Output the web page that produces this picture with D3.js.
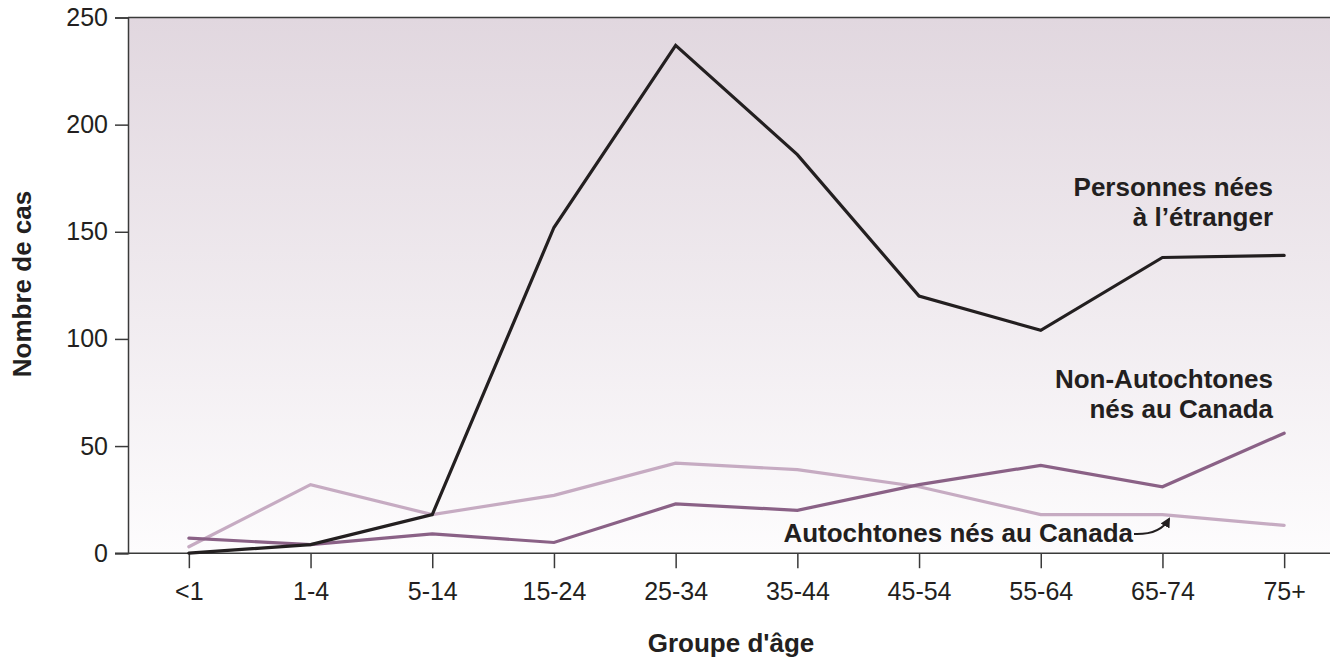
<!DOCTYPE html>
<html lang="fr">
<head>
<meta charset="UTF-8">
<title>Nombre de cas par groupe d'âge</title>
<style>
  body { margin: 0; background: #fff; }
  svg { display: block; font-family: "Liberation Sans", Arial, sans-serif; }
</style>
</head>
<body>
<script src="https://cdn.jsdelivr.net/npm/d3@7"></script>
<script>
// age groups on x axis
var ages = ["<1", "1-4", "5-14", "15-24", "25-34", "35-44", "45-54", "55-64", "65-74", "75+"];

// cases per group
var etranger = [0, 4, 18, 152, 237, 186, 120, 104, 138, 139];
var nonAutochtones = [7, 4, 9, 5, 23, 20, 32, 41, 31, 56];
var autochtones = [3, 32, 18, 27, 42, 39, 31, 18, 18, 13];

var yTicks = [0, 50, 100, 150, 200, 250];

var W = 1330, H = 659;
var margin = {top: 17.5, left: 128, bottom: 106};
var plotBottom = H - margin.bottom + 0.2; // ~552.7

var svg = d3.select("body").append("svg")
  .attr("width", W)
  .attr("height", H);

var x = d3.scalePoint().domain(ages).range([margin.left, 1345]).padding(0.5);
var y = d3.scaleLinear().domain([0, 250]).range([plotBottom, margin.top]);

// background gradient
var grad = svg.append("defs").append("linearGradient")
  .attr("id", "bg").attr("x1", 0).attr("y1", 0).attr("x2", 0).attr("y2", 1);
grad.append("stop").attr("offset", "0%").attr("stop-color", "#e1d7df");
grad.append("stop").attr("offset", "100%").attr("stop-color", "#fdfcfd");

svg.append("rect")
  .attr("x", margin.left)
  .attr("y", margin.top)
  .attr("width", W - margin.left)
  .attr("height", plotBottom - margin.top)
  .attr("fill", "url(#bg)");

// y axis
var yAxis = d3.axisLeft(y).tickValues(yTicks).tickSize(13).tickPadding(7);
var gy = svg.append("g")
  .attr("transform", "translate(" + margin.left + ",0)")
  .call(yAxis);
gy.select(".domain").attr("stroke", "#3a3a3a").attr("stroke-width", 1.5);
gy.selectAll(".tick line").attr("stroke", "#3a3a3a").attr("stroke-width", 1.5);
gy.selectAll(".tick text")
  .attr("font-size", 25)
  .attr("fill", "#231f20")
  .attr("font-family", "Liberation Sans, Arial, sans-serif");

// top border, continues the 250 tick
svg.append("line")
  .attr("x1", margin.left).attr("x2", W)
  .attr("y1", y(250)).attr("y2", y(250))
  .attr("stroke", "#3a3a3a").attr("stroke-width", 1.5);

// x axis
var xAxis = d3.axisBottom(x).tickSize(15).tickPadding(14).tickSizeOuter(0);
var gx = svg.append("g")
  .attr("transform", "translate(0," + plotBottom + ")")
  .call(xAxis);
gx.select(".domain").remove();
gx.selectAll(".tick line").attr("stroke", "#3a3a3a").attr("stroke-width", 1.5);
gx.selectAll(".tick text")
  .attr("font-size", 25)
  .attr("fill", "#231f20")
  .attr("font-family", "Liberation Sans, Arial, sans-serif");
svg.append("line")
  .attr("x1", 115).attr("x2", W)
  .attr("y1", plotBottom).attr("y2", plotBottom)
  .attr("stroke", "#3a3a3a").attr("stroke-width", 1.5);

// lines
var line = d3.line()
  .x(function(d, i) { return x(ages[i]); })
  .y(function(d) { return y(d); });

var series = [
  {vals: autochtones, color: "#c6abc2"},
  {vals: nonAutochtones, color: "#8a6186"},
  {vals: etranger, color: "#231f20"}
];

svg.selectAll("path.serie")
  .data(series)
  .enter()
  .append("path")
  .attr("class", "serie")
  .attr("d", function(d) { return line(d.vals); })
  .attr("fill", "none")
  .attr("stroke", function(d) { return d.color; })
  .attr("stroke-width", 3.2)
  .attr("stroke-linejoin", "miter")
  .attr("stroke-linecap", "round");

// labels
function label(lines, xr, yb) {
  var t = svg.append("text")
    .attr("text-anchor", "end")
    .attr("font-size", 26)
    .attr("font-weight", "bold")
    .attr("fill", "#231f20");
  lines.forEach(function(s, i) {
    t.append("tspan").attr("x", xr).attr("y", yb + i * 29.5).text(s);
  });
}
label(["Personnes nées", "à l\u2019étranger"], 1273, 196);
label(["Non-Autochtones", "nés au Canada"], 1273, 388);
label(["Autochtones nés au Canada"], 1133, 541.5);

// little arrow to the Autochtones line
svg.append("defs").append("marker")
  .attr("id", "arr")
  .attr("viewBox", "0 0 10 10")
  .attr("refX", 8).attr("refY", 5)
  .attr("markerWidth", 5).attr("markerHeight", 5)
  .attr("orient", "auto")
  .append("path").attr("d", "M0,0 L10,5 L0,10 Z").attr("fill", "#231f20");

svg.append("path")
  .attr("d", "M1134,534 Q1160,535 1169,519")
  .attr("fill", "none")
  .attr("stroke", "#231f20")
  .attr("stroke-width", 2)
  .attr("marker-end", "url(#arr)");

// axis titles
svg.append("text")
  .attr("x", 731).attr("y", 652)
  .attr("text-anchor", "middle")
  .attr("font-size", 26)
  .attr("font-weight", "bold")
  .attr("fill", "#231f20")
  .text("Groupe d'âge");

svg.append("text")
  .attr("transform", "translate(31,284) rotate(-90)")
  .attr("text-anchor", "middle")
  .attr("font-size", 26)
  .attr("font-weight", "bold")
  .attr("fill", "#231f20")
  .text("Nombre de cas");
</script>
</body>
</html>
